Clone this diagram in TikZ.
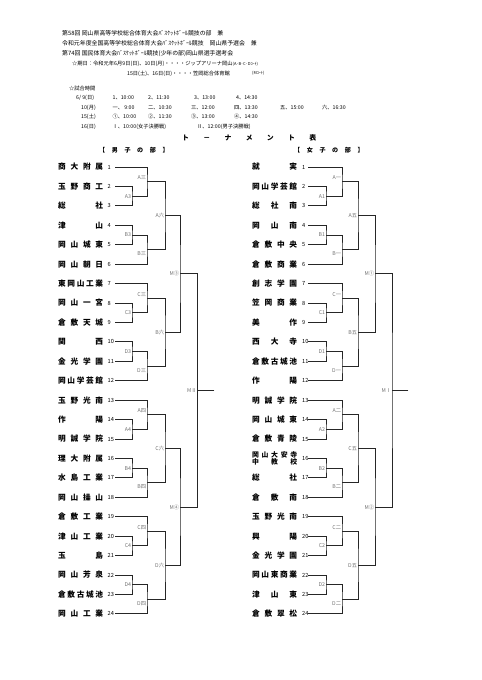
\documentclass[tikz,border=0pt]{standalone}
\usepackage{fontspec}
\setmainfont{Noto Sans CJK JP}
\usetikzlibrary{positioning}
\def\gobbleone#1{}
\def\sprA#1#2{#1\ifx\relax#2\expandafter\gobbleone\else\hfill\expandafter\sprA\fi#2}
\newcommand\spread[2]{\makebox[#1][s]{\expandafter\sprA#2\relax}}
\def\nmw{55.7pt}
\tikzset{
  team/.style={anchor=west, inner sep=0pt, font=\bfseries\fontsize{9.5}{10}\selectfont},
  seed/.style={anchor=west, inner sep=0pt, font=\fontsize{7}{8}\selectfont},
  game/.style={anchor=east, inner sep=1pt, text=black!55, font=\fontsize{6.5}{7}\selectfont},
  head/.style={anchor=west, inner sep=0pt, font=\fontsize{7.3}{9}\selectfont},
  info/.style={anchor=west, inner sep=0pt, font=\fontsize{6.5}{7}\selectfont},
  brk/.style={line width=1pt, black!85},
}
\newcommand\game[6]{%
  \path (#3) -- (#4) coordinate[midway] (#1h);
  \coordinate (#1) at (#1h -| #2,0);
  \draw[brk] (#3) -| (#1) |- (#4);
  \node[game, yshift=#6] at (#1) {#5};
}
\begin{document}
\begin{tikzpicture}[x=1.2376pt, y=-1.2376pt, line cap=rect]
\useasboundingbox[fill=white] (0,0) rectangle (481,680);
\node[head] (h1) at (62,33) {第58回 岡山県高等学校総合体育大会ﾊﾞｽｹｯﾄﾎﾞｰﾙ競技の部　兼};
\node[head] (h2) at (62,43.5) {令和元年度全国高等学校総合体育大会ﾊﾞｽｹｯﾄﾎﾞｰﾙ競技　岡山県予選会　兼};
\node[head] (h3) at (62,54) {第74回 国民体育大会ﾊﾞｽｹｯﾄﾎﾞｰﾙ競技(少年の部)岡山県選手選考会};
\node[info] (d1) at (72,64) {☆期日：令和元年6月9日(日)、10日(月)・・・・ジップアリーナ岡山{\fontsize{5}{5}\selectfont(A･B･C･Dｺｰﾄ)}};
\node[info] (d2) at (127,73.5) {15日(土)、16日(日)・・・・笠岡総合体育館};
\node[info] (d3) at (252,73.5) {\fontsize{5}{5}\selectfont(Mｺｰﾄ)};
\node[info] (t0) at (69,89) {☆試合時間};
\node[info] (r1) at (76,98) {6/ 9(日)};
\node[info] (r2) at (81,107.5) {10(月)};
\node[info] (r3) at (81,117) {15(土)};
\node[info] (r4) at (81,126.5) {16(日)};
\foreach \x/\s in {112.5/1、10:00,148/2、11:30,194/3、13:00,236/4、14:30}
  \node[info] at (\x,98) {\s};
\foreach \x/\s in {112.5/一、 9:00,148/二、10:30,191/三、12:00,234/四、13:30,280/五、15:00,322/六、16:30}
  \node[info] at (\x,107.5) {\s};
\foreach \x/\s in {112.5/①、10:00,148/②、11:30,191/③、13:00,234/④、14:30}
  \node[info] at (\x,117) {\s};
\node[info] at (112.5,126.5) {Ⅰ、10:00(女子決勝戦)};
\node[info] at (197,126.5) {Ⅱ、12:00(男子決勝戦)};
\node[anchor=west, inner sep=0pt, font=\bfseries\fontsize{8.5}{9}\selectfont] (ttl) at (182,138) {\spread{166pt}{ト－ナメント表}};
\node[anchor=west, inner sep=0pt, font=\bfseries\fontsize{7.5}{8}\selectfont] (bh) at (99,150) {\spread{86pt}{【男子の部】}};
\node[anchor=west, inner sep=0pt, font=\bfseries\fontsize{7.5}{8}\selectfont] (gh) at (294,150) {\spread{86pt}{【女子の部】}};
\def\boys{商大附属,玉野商工,総社,津山,岡山城東,岡山朝日,東岡山工業,岡山一宮,倉敷天城,関西,金光学園,岡山学芸館,玉野光南,作陽,明誠学院,理大附属,水島工業,岡山操山,倉敷工業,津山工業,玉島,岡山芳泉,倉敷古城池,岡山工業}
\def\girls{就実,岡山学芸館,総社南,岡山南,倉敷中央,倉敷商業,創志学園,笠岡商業,美作,西大寺,倉敷古城池,作陽,明誠学院,岡山城東,倉敷青陵,岡山大安寺,総社,倉敷南,玉野光南,興陽,金光学園,岡山東商業,津山東,倉敷翠松}
\foreach \nm [count=\i] in \boys {
  \pgfmathsetmacro\yy{167+(\i-1)*19.43}
  \node[team] (bname\i) at (58,\yy) {\spread{\nmw}{\nm}};
  \node[seed] (bnum\i) at (107.5,\yy) {\i};
  \coordinate (bt\i) at (115.5,\yy);
}
\foreach \nm [count=\i] in \girls {
  \pgfmathsetmacro\yy{167+(\i-1)*19.43}
  \ifnum\i=16\relax\else
  \node[team] (gname\i) at (252,\yy) {\spread{\nmw}{\nm}};
  \fi
  \node[seed] (gnum\i) at (302,\yy) {\i};
  \coordinate (gt\i) at (308.5,\yy);
}
\node[team, align=left, font=\bfseries\fontsize{8.5}{9.5}\selectfont] (gname16) at (252,458.5) {\spread{\nmw}{岡山大安寺}\\\spread{\nmw}{中教校}};
\foreach \k/\pl/\ql in {0/A3/A三,1/B3/B三,2/C3/C三,3/D3/D三,4/A4/A四,5/B4/B四,6/C4/C四,7/D4/D四}{
  \pgfmathtruncatemacro\ta{3*\k+1}
  \pgfmathtruncatemacro\tb{3*\k+2}
  \pgfmathtruncatemacro\tc{3*\k+3}
  \ifodd\k\relax
    \game{bp\k}{132}{bt\ta}{bt\tb}{\pl}{0pt}
    \game{bq\k}{147}{bp\k}{bt\tc}{\ql}{-5pt}
  \else
    \game{bp\k}{132}{bt\tb}{bt\tc}{\pl}{0pt}
    \game{bq\k}{147}{bt\ta}{bp\k}{\ql}{5pt}
  \fi
}
\foreach \k/\pl/\ql in {0/A1/A一,1/B1/B一,2/C1/C一,3/D1/D一,4/A2/A二,5/B2/B二,6/C2/C二,7/D2/D二}{
  \pgfmathtruncatemacro\ta{3*\k+1}
  \pgfmathtruncatemacro\tb{3*\k+2}
  \pgfmathtruncatemacro\tc{3*\k+3}
  \ifodd\k\relax
    \game{gp\k}{326}{gt\ta}{gt\tb}{\pl}{0pt}
    \game{gq\k}{342}{gp\k}{gt\tc}{\ql}{-5pt}
  \else
    \game{gp\k}{326}{gt\tb}{gt\tc}{\pl}{0pt}
    \game{gq\k}{342}{gt\ta}{gp\k}{\ql}{5pt}
  \fi
}
\foreach \j/\bl/\gl in {0/A六/A五,1/B六/B五,2/C六/C五,3/D六/D五}{
  \pgfmathtruncatemacro\qa{2*\j}
  \pgfmathtruncatemacro\qb{2*\j+1}
  \game{br\j}{165}{bq\qa}{bq\qb}{\bl}{0pt}
  \game{gr\j}{358}{gq\qa}{gq\qb}{\gl}{0pt}
}
\game{bs0}{180}{br0}{br1}{M③}{0pt}
\game{bs1}{180}{br2}{br3}{M④}{0pt}
\game{bf}{197.5}{bs0}{bs1}{MⅡ}{0pt}
\game{gs0}{375}{gr0}{gr1}{M①}{0pt}
\game{gs1}{375}{gr2}{gr3}{M②}{0pt}
\game{gf}{392}{gs0}{gs1}{MⅠ}{0pt}
\coordinate (bw) at (bf -| 214,0);
\coordinate (gw) at (gf -| 408,0);
\draw[brk] (bf) -- (bw);
\draw[brk] (gf) -- (gw);
\end{tikzpicture}
\end{document}
